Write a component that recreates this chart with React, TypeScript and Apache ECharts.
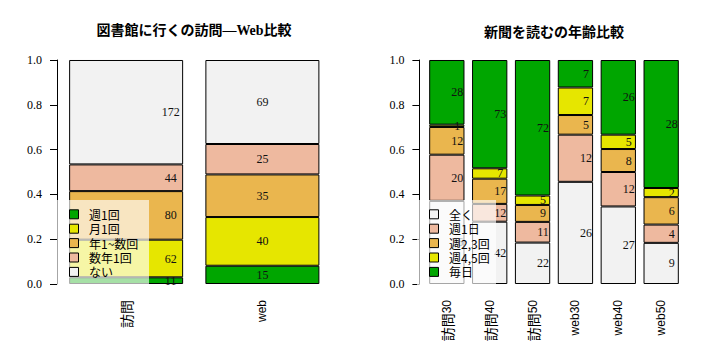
import React, { useEffect, useRef } from 'react';
import * as echarts from 'echarts';

// Left chart: library visits
const libCats = ['訪問', 'web'];
const libNames = ['週1回', '月1回', '年1~数回', '数年1回', 'ない'];
const libWeekly = [11, 15];
const libMonthly = [62, 40];
const libYearly = [80, 35];
const libFewYears = [44, 25];
const libNever = [172, 69];

// Right chart: newspaper reading by age
const newsCats = ['訪問30', '訪問40', '訪問50', 'web30', 'web40', 'web50'];
const newsNames = ['全く', '週1日', '週2,3回', '週4,5回', '毎日'];
const newsNever = [36, 42, 22, 26, 27, 9];
const newsWeek1 = [20, 12, 11, 12, 12, 4];
const newsWeek23 = [12, 17, 9, 5, 8, 6];
const newsWeek45 = [1, 7, 5, 7, 5, 2];
const newsDaily = [28, 73, 72, 7, 26, 28];

const yTicks = [0, 0.2, 0.4, 0.6, 0.8, 1.0];

const terrain = ['#00A600', '#E6E600', '#EAB64E', '#EEB99F', '#F2F2F2'];

const SERIF = '"Liberation Serif", "Times New Roman", serif';
const SANS = '"Liberation Sans", Arial, "Noto Sans CJK JP", sans-serif';
const CJK = '"Noto Sans CJK JP", sans-serif';

function buildSeries(
  groups: number[][],
  names: string[],
  colors: string[],
  axisIndex: number,
  barWidth: number,
  offsets: number[],
  stack: string
) {
  const n = groups[0].length;
  const totals: number[] = [];
  for (let j = 0; j < n; j++) {
    let s = 0;
    for (let i = 0; i < groups.length; i++) s += groups[i][j];
    totals.push(s);
  }
  return groups.map((g, i) => ({
    type: 'bar',
    name: names[i],
    xAxisIndex: axisIndex,
    yAxisIndex: axisIndex,
    stack,
    barWidth,
    itemStyle: { color: colors[i], borderColor: '#000', borderWidth: 1 },
    label: {
      show: true,
      position: 'inside',
      fontFamily: SERIF,
      fontSize: 12,
      color: '#111',
      formatter: (p: any) => String(g[p.dataIndex]),
    },
    data: g.map((c, j) => ({
      value: c / totals[j],
      label: { offset: [offsets[j], 0] },
    })),
  }));
}

function legendGraphics(
  x0: number,
  width: number,
  squareX: number,
  textX: number,
  names: string[],
  colors: string[]
) {
  const els: any[] = [
    {
      type: 'rect',
      z: 100,
      shape: { x: x0, y: 200, width, height: 87 },
      style: { fill: 'rgba(255,255,255,0.65)' },
    },
  ];
  names.forEach((nm, i) => {
    const y = 214.3 + i * 14.4;
    els.push({
      type: 'rect',
      z: 101,
      shape: { x: squareX, y: y - 4.5, width: 9, height: 9 },
      style: { fill: colors[i], stroke: '#000', lineWidth: 1 },
    });
    els.push({
      type: 'text',
      z: 101,
      x: textX,
      y,
      style: {
        text: nm,
        fill: '#000',
        font: `12px ${CJK}`,
        textVerticalAlign: 'middle',
        verticalAlign: 'middle',
      },
    });
  });
  return els;
}

function xLabelFormatter(v: string) {
  return v.replace(/^(訪問)/, '{c|$1}');
}

function makeYAxis(gridIndex: number, offset: number) {
  return {
    type: 'value',
    gridIndex,
    min: 0,
    max: 1,
    interval: 0.2,
    offset,
    axisLine: { show: true, lineStyle: { color: '#000', width: 1 } },
    axisTick: { show: true, length: 7, lineStyle: { color: '#000', width: 1 } },
    splitLine: { show: false },
    axisLabel: {
      margin: 15,
      fontFamily: SERIF,
      fontSize: 12,
      color: '#000',
      formatter: (v: number) => (yTicks.includes(Math.round(v * 10) / 10) ? v.toFixed(1) : ''),
    },
  };
}

function makeXAxis(gridIndex: number, data: string[]) {
  return {
    type: 'category',
    gridIndex,
    data,
    axisLine: { show: false },
    axisTick: { show: false },
    axisLabel: {
      rotate: 90,
      margin: 16,
      fontFamily: SANS,
      fontSize: 12,
      color: '#000',
      interval: 0,
      formatter: xLabelFormatter,
      rich: { c: { fontFamily: CJK, fontSize: 14, color: '#000' } },
    },
  };
}

export default function App() {
  const ref = useRef<HTMLDivElement>(null);
  useEffect(() => {
    if (!ref.current) return;
    const chart = echarts.init(ref.current, undefined, { renderer: 'svg' });
    const libGroups = [libWeekly, libMonthly, libYearly, libFewYears, libNever];
    const newsGroups = [newsNever, newsWeek1, newsWeek23, newsWeek45, newsDaily];
    const newsColors = terrain.slice().reverse();
    const option: any = {
      animation: false,
      backgroundColor: '#fff',
      grid: [
        { left: 58, top: 60, width: 272.5, height: 224 },
        { left: 425.4, top: 60, width: 257.2, height: 224 },
      ],
      xAxis: [makeXAxis(0, libCats), makeXAxis(1, newsCats)],
      yAxis: [makeYAxis(0, 1), makeYAxis(1, 6)],
      series: [
        ...buildSeries(libGroups, libNames, terrain, 0, 114, [44.5, 0], 'lib'),
        ...buildSeries(newsGroups, newsNames, newsColors, 1, 35.3, newsCats.map(() => 10.5), 'news'),
      ],
      graphic: [
        {
          type: 'text',
          x: 194,
          y: 30.5,
          style: {
            text: '図書館に行くの訪問—Web比較',
            font: `bold 14px ${SERIF}, ${CJK}`,
            fill: '#000',
            textAlign: 'center',
            textVerticalAlign: 'middle',
            align: 'center',
            verticalAlign: 'middle',
          },
        },
        {
          type: 'text',
          x: 554,
          y: 30.5,
          style: {
            text: '新聞を読むの年齢比較',
            font: `bold 14px ${CJK}`,
            fill: '#000',
            textAlign: 'center',
            textVerticalAlign: 'middle',
            align: 'center',
            verticalAlign: 'middle',
          },
        },
        ...legendGraphics(57, 92, 69.5, 89, libNames, terrain),
        ...legendGraphics(417, 79, 429.5, 449, newsNames, newsColors),
      ],
    };
    chart.setOption(option);
    return () => chart.dispose();
  }, []);
  return (
    <div
      ref={ref}
      style={{ position: 'fixed', left: 0, top: 0, width: 720, height: 360, background: '#fff' }}
    />
  );
}
